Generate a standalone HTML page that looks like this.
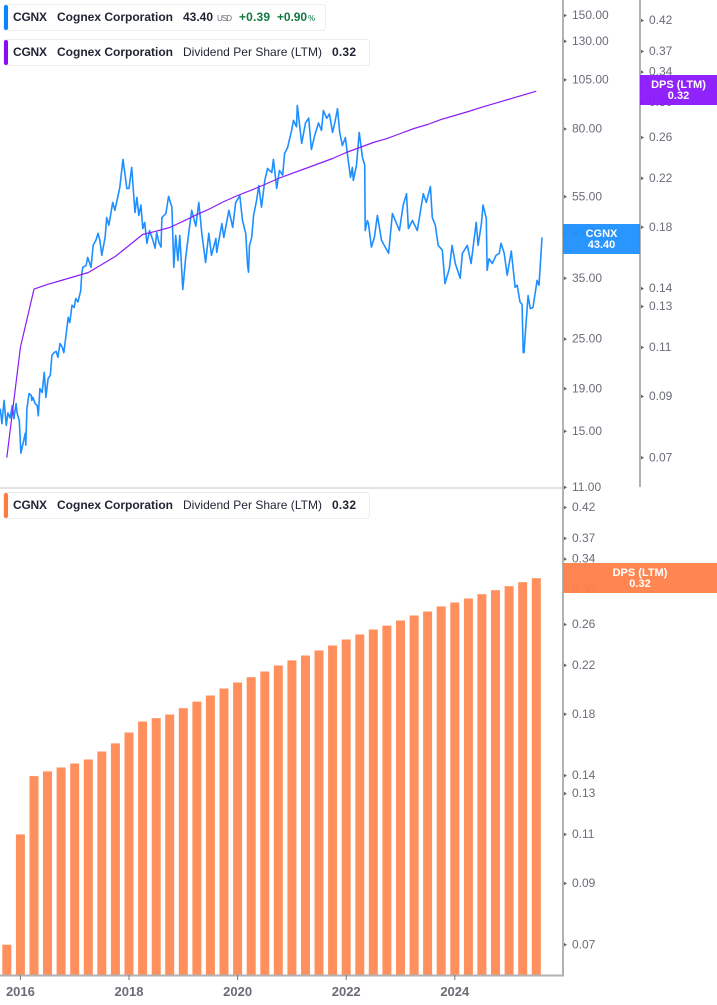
<!DOCTYPE html>
<html lang="en">
<head>
<meta charset="utf-8">
<title>CGNX Dividend Per Share Chart</title>
<style>
  html, body { margin: 0; padding: 0; background: #fff; }
  body { width: 717px; height: 1005px; overflow: hidden; }
  svg { display: block; font-family: "Liberation Sans", sans-serif; }
  .tick { font-size: 12px; fill: #6a6d78; }
  .yr { font-size: 13px; font-weight: 700; fill: #6a6d78; }
  .lg { font-size: 12px; fill: #1f2433; }
  .lgb { font-size: 12px; font-weight: 700; fill: #1f2433; }
  .tag { font-size: 11px; font-weight: 700; fill: #fff; text-anchor: middle; }
</style>
</head>
<body>
<svg id="chart" xmlns="http://www.w3.org/2000/svg" width="717" height="1005" viewBox="0 0 717 1005">
  <g id="bars"></g>
  <polyline id="price-line" fill="none" stroke="#1e8fff" stroke-width="1.6" stroke-linejoin="round"></polyline>
  <polyline id="dps-line" fill="none" stroke="#8a1cf5" stroke-width="1.2" stroke-linejoin="round"></polyline>

  <rect x="0" y="487" width="563" height="2" fill="#e2e2e2"></rect>
  <rect x="562" y="0" width="2" height="976" fill="#b2b2b2"></rect>
  <rect x="639" y="0" width="2" height="487" fill="#b2b2b2"></rect>
  <rect x="0" y="974.5" width="564" height="2" fill="#b2b2b2"></rect>

  <g id="price-ticks"></g>
  <g id="dps-ticks-top"></g>
  <g id="dps-ticks-bottom"></g>
  <g id="year-ticks"></g>

  <g>
    <rect x="563" y="224" width="77" height="30" fill="#1e8fff" fill-opacity="0.95"></rect>
    <text class="tag" x="601.5" y="237">CGNX</text>
    <text class="tag" x="601.5" y="248">43.40</text>
  </g>
  <g>
    <rect x="640" y="75" width="77" height="30" fill="#8a17fb" fill-opacity="0.95"></rect>
    <text class="tag" x="678.5" y="88">DPS (LTM)</text>
    <text class="tag" x="678.5" y="99">0.32</text>
  </g>
  <g>
    <rect x="563" y="563" width="154" height="30" fill="#ff8048" fill-opacity="0.95"></rect>
    <text class="tag" x="640" y="576">DPS (LTM)</text>
    <text class="tag" x="640" y="587">0.32</text>
  </g>

  <g>
    <rect x="3.5" y="4.5" width="322" height="26" rx="3" fill="#fff" stroke="#ededed"></rect>
    <rect x="4" y="5" width="4" height="25" rx="2" fill="#0a84ff"></rect>
    <text class="lgb" x="13" y="21" textLength="34" lengthAdjust="spacing">CGNX</text>
    <text class="lgb" x="57" y="21" textLength="116" lengthAdjust="spacing">Cognex Corporation</text>
    <text class="lgb" x="183" y="21" textLength="30" lengthAdjust="spacing">43.40</text>
    <text x="217" y="21" font-size="8" fill="#6a6d78" textLength="15" lengthAdjust="spacing">USD</text>
    <text x="239" y="21" font-size="12" font-weight="700" fill="#12783f" textLength="31" lengthAdjust="spacing">+0.39</text>
    <text x="277" y="21" font-size="12" font-weight="700" fill="#12783f" textLength="30" lengthAdjust="spacing">+0.90</text>
    <text x="308" y="21" font-size="8" font-weight="700" fill="#3d9a68">%</text>
  </g>
  <g>
    <rect x="3.5" y="39.5" width="366" height="26" rx="3" fill="#fff" stroke="#ededed"></rect>
    <rect x="4" y="40" width="4" height="25" rx="2" fill="#8a0cf5"></rect>
    <text class="lgb" x="13" y="56" textLength="34" lengthAdjust="spacing">CGNX</text>
    <text class="lgb" x="57" y="56" textLength="116" lengthAdjust="spacing">Cognex Corporation</text>
    <text class="lg" x="183" y="56" textLength="139" lengthAdjust="spacing">Dividend Per Share (LTM)</text>
    <text class="lgb" x="332" y="56" textLength="24" lengthAdjust="spacing">0.32</text>
  </g>
  <g>
    <rect x="3.5" y="492.5" width="366" height="26" rx="3" fill="#fff" stroke="#ededed"></rect>
    <rect x="4" y="493" width="4" height="25" rx="2" fill="#ff7a3d"></rect>
    <text class="lgb" x="13" y="509" textLength="34" lengthAdjust="spacing">CGNX</text>
    <text class="lgb" x="57" y="509" textLength="116" lengthAdjust="spacing">Cognex Corporation</text>
    <text class="lg" x="183" y="509" textLength="139" lengthAdjust="spacing">Dividend Per Share (LTM)</text>
    <text class="lgb" x="332" y="509" textLength="24" lengthAdjust="spacing">0.32</text>
  </g>
</svg>

<script>
const priceDates = [2015.63,2015.66,2015.70,2015.74,2015.77,2015.81,2015.85,2015.88,2015.92,2015.94,2015.98,2016.01,2016.05,2016.09,2016.10,2016.12,2016.16,2016.20,2016.21,2016.23,2016.27,2016.31,2016.33,2016.36,2016.40,2016.44,2016.47,2016.51,2016.55,2016.58,2016.62,2016.66,2016.69,2016.73,2016.77,2016.80,2016.84,2016.88,2016.91,2016.95,2016.99,2017.02,2017.06,2017.11,2017.13,2017.15,2017.21,2017.24,2017.30,2017.34,2017.39,2017.43,2017.465,2017.50,2017.56,2017.59,2017.63,2017.70,2017.74,2017.83,2017.89,2017.92,2017.96,2018.00,2018.05,2018.11,2018.145,2018.18,2018.22,2018.255,2018.29,2018.33,2018.38,2018.44,2018.48,2018.51,2018.55,2018.59,2018.605,2018.68,2018.73,2018.79,2018.825,2018.86,2018.90,2018.935,2018.99,2019.045,2019.10,2019.155,2019.23,2019.285,2019.34,2019.41,2019.47,2019.52,2019.60,2019.615,2019.71,2019.745,2019.84,2019.91,2019.965,2020.04,2020.09,2020.15,2020.185,2020.20,2020.22,2020.26,2020.295,2020.35,2020.39,2020.44,2020.50,2020.55,2020.63,2020.66,2020.72,2020.77,2020.83,2020.865,2020.92,2020.995,2021.03,2021.085,2021.10,2021.18,2021.25,2021.31,2021.36,2021.42,2021.49,2021.545,2021.58,2021.64,2021.69,2021.75,2021.80,2021.84,2021.88,2021.93,2021.985,2022.02,2022.08,2022.115,2022.13,2022.19,2022.24,2022.30,2022.34,2022.35,2022.39,2022.41,2022.465,2022.52,2022.575,2022.65,2022.70,2022.78,2022.85,2022.94,2022.98,2023.05,2023.11,2023.145,2023.22,2023.31,2023.38,2023.42,2023.475,2023.55,2023.585,2023.64,2023.695,2023.77,2023.82,2023.90,2023.95,2024.01,2024.10,2024.14,2024.23,2024.30,2024.395,2024.43,2024.49,2024.52,2024.58,2024.595,2024.63,2024.69,2024.76,2024.82,2024.85,2024.91,2024.965,2025.04,2025.11,2025.15,2025.20,2025.24,2025.26,2025.275,2025.31,2025.35,2025.39,2025.44,2025.515,2025.55,2025.59,2025.605];
const priceValues = [17.0,15.65,17.8,15.5,16.6,16.15,17.3,16.1,17.5,16.6,15.9,13.3,14.05,14.85,13.9,17.0,18.5,18.3,17.8,18.1,17.5,17.3,16.35,19.0,18.6,20.8,18.1,20.1,20.45,22.85,23.2,23.35,22.6,24.4,23.9,23.2,25.5,28.2,27.4,30.15,29.8,31.3,30.7,32.7,36.0,37.2,37.6,39.3,37.2,42.05,43.2,44.9,43.2,39.75,43.9,49.0,47.0,53.3,51.0,57.9,67.6,63.0,57.6,57.6,64.7,50.4,54.8,49.6,52.5,46.1,47.7,42.5,45.6,43.2,41.35,45.1,42.7,41.6,49.0,50.1,55.1,51.9,37.2,44.4,38.6,44.4,32.9,39.3,44.9,51.0,46.7,53.3,44.9,38.2,44.9,39.75,43.65,40.4,47.4,43.9,51.0,46.4,53.3,55.3,48.2,44.9,37.6,36.2,42.0,43.9,49.6,53.9,58.5,51.9,60.2,64.3,62.9,67.6,57.6,63.6,62.0,69.9,72.2,79.4,83.9,81.0,91.2,73.9,82.7,85.0,71.4,77.2,82.7,79.4,88.6,84.9,87.0,78.5,83.9,89.6,78.5,73.0,76.3,69.9,61.2,64.7,60.2,65.5,78.5,68.3,65.5,45.6,48.2,47.4,41.6,43.9,49.6,43.2,42.05,40.2,50.1,47.0,45.6,52.5,55.9,46.1,48.2,45.6,51.9,55.9,53.3,58.2,49.0,47.0,42.0,40.9,34.0,37.0,42.0,38.0,35.0,40.2,42.0,38.0,47.7,42.0,47.4,52.5,48.8,36.6,39.0,38.0,39.75,40.2,42.5,40.2,35.6,40.7,33.3,33.7,30.7,30.3,23.2,23.2,27.0,31.8,29.6,29.8,34.6,33.7,40.4,43.9];
const dpsDates = [2015.75,2016.0,2016.25,2016.5,2016.75,2017.0,2017.25,2017.5,2017.75,2018.0,2018.25,2018.5,2018.75,2019.0,2019.25,2019.5,2019.75,2020.0,2020.25,2020.5,2020.75,2021.0,2021.25,2021.5,2021.75,2022.0,2022.25,2022.5,2022.75,2023.0,2023.25,2023.5,2023.75,2024.0,2024.25,2024.5,2024.75,2025.0,2025.25,2025.5];
const dpsValues = [0.07,0.11,0.1397,0.1424,0.1447,0.1471,0.1495,0.1545,0.1597,0.167,0.1747,0.1771,0.1798,0.1845,0.1896,0.1944,0.2,0.205,0.2095,0.2145,0.2198,0.2244,0.229,0.2337,0.2386,0.2445,0.2496,0.2547,0.2589,0.2643,0.2698,0.2743,0.28,0.2846,0.2893,0.2944,0.2993,0.3042,0.3093,0.3143];
const priceTickLabels = ["150.00","130.00","105.00","80.00","55.00","45.00","35.00","25.00","19.00","15.00","11.00"];
const dpsTickLabels = ["0.42","0.37","0.34","0.30","0.26","0.22","0.18","0.14","0.13","0.11","0.09","0.07"];
const yearTickLabels = ["2016","2018","2020","2022","2024"];

const SVG_NS = "http://www.w3.org/2000/svg";
const xScale = (t) => 20.4 + (t - 2016) * 54.3;
const priceY = (v) => 15.5 + Math.log(150 / v) * 180.6;
const dpsY = (v) => 20.5 + Math.log(0.42 / v) * 244;
const dpsBottomY = (v) => dpsY(v) + 487;
const BASE_Y = 975;

function pointsFor(xs, ys, yFn) {
  return xs.map((t, i) => xScale(t).toFixed(1) + "," + yFn(ys[i]).toFixed(1)).join(" ");
}
document.getElementById("price-line").setAttribute("points", pointsFor(priceDates, priceValues, priceY));
document.getElementById("dps-line").setAttribute("points", pointsFor(dpsDates, dpsValues, dpsY));

const barsGroup = document.getElementById("bars");
dpsValues.forEach((v, i) => {
  const top = dpsBottomY(v);
  const r = document.createElementNS(SVG_NS, "rect");
  
  
  r.setAttribute("x", (xScale(dpsDates[i]) - 4.5).toFixed(1));
  r.setAttribute("y", top.toFixed(1));
  r.setAttribute("width", "9");
  r.setAttribute("height", (BASE_Y - top).toFixed(1));
  r.setAttribute("fill", "#ff8f5c");
  barsGroup.appendChild(r);
});

function addYTicks(groupId, labels, yFn, axisX) {
  const g = document.getElementById(groupId);
  labels.forEach((lab) => {
    const y = yFn(parseFloat(lab));
    const m = document.createElementNS(SVG_NS, "path");
    
    
    m.setAttribute("d", "M" + (axisX + 1) + " " + (y - 1.8).toFixed(1) + "l3 1.8l-3 1.8z");
    m.setAttribute("fill", "#666");
    g.appendChild(m);
    const t = document.createElementNS(SVG_NS, "text");
    
    
    t.setAttribute("class", "tick");
    t.setAttribute("x", axisX + 9);
    t.setAttribute("y", (y + 3.6).toFixed(1));
    t.textContent = lab;
    g.appendChild(t);
  });
}
addYTicks("price-ticks", priceTickLabels, priceY, 563);
addYTicks("dps-ticks-top", dpsTickLabels, dpsY, 640);
addYTicks("dps-ticks-bottom", dpsTickLabels, dpsBottomY, 563);

const yearGroup = document.getElementById("year-ticks");
yearTickLabels.forEach((lab) => {
  const x = xScale(parseFloat(lab));
  const l = document.createElementNS(SVG_NS, "rect");
  
  
  l.setAttribute("x", (x - 0.5).toFixed(1));
  l.setAttribute("y", "975");
  l.setAttribute("width", "1");
  l.setAttribute("height", "5");
  l.setAttribute("fill", "#777");
  yearGroup.appendChild(l);
  const t = document.createElementNS(SVG_NS, "text");
  
  
  t.setAttribute("class", "yr");
  t.setAttribute("x", x.toFixed(1));
  t.setAttribute("y", "996");
  t.setAttribute("text-anchor", "middle");
  t.textContent = lab;
  yearGroup.appendChild(t);
});
</script>
</body>
</html>
